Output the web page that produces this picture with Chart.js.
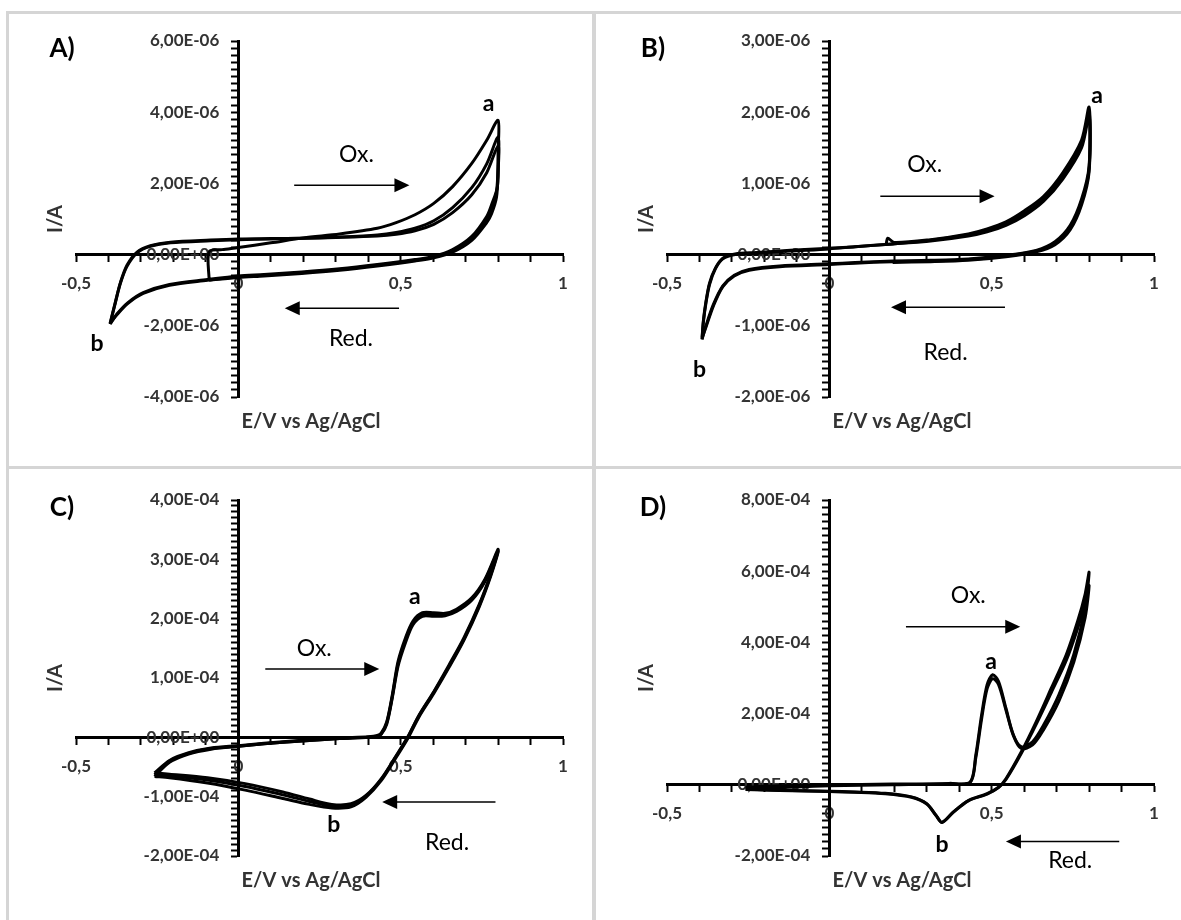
<!DOCTYPE html>
<html>
<head>
<meta charset="utf-8">
<script src="https://cdn.jsdelivr.net/npm/chart.js@4.4.1/dist/chart.umd.min.js"></script>
<style>
  html, body { margin: 0; padding: 0; background: #fff; }
  body { width: 1181px; height: 920px; position: relative; overflow: hidden; }
  .panel { position: absolute; width: 590px; height: 459px; }
  .rule { position: absolute; background: #d5d5d5; }
</style>
</head>
<body>
<div class="panel" style="left:0;top:0"><canvas id="chartA" width="590" height="459"></canvas></div>
<div class="panel" style="left:591px;top:0"><canvas id="chartB" width="590" height="459"></canvas></div>
<div class="panel" style="left:0;top:459px"><canvas id="chartC" width="590" height="459"></canvas></div>
<div class="panel" style="left:591px;top:459px"><canvas id="chartD" width="590" height="459"></canvas></div>
<div class="rule" style="left:6px;top:11px;width:1175px;height:3px"></div>
<div class="rule" style="left:6px;top:11px;width:3px;height:909px"></div>
<div class="rule" style="left:592px;top:11px;width:4px;height:909px"></div>
<div class="rule" style="left:6px;top:466px;width:1175px;height:3px"></div>
<script>
// A) currents in µA
const potA1 = [-0.09, -0.09, -0.05, 0, 0.1, 0.2, 0.312, 0.428, 0.486, 0.544, 0.602, 0.66, 0.719, 0.765, 0.8, 0.8, 0.798, 0.78, 0.765, 0.719, 0.66, 0.602, 0.544, 0.428, 0.312, 0.195, 0.079, 0, -0.095, -0.212, -0.293, -0.34, -0.374, -0.395];
const curA1 = [-0.72, 0.08, 0.14, 0.2, 0.33, 0.47, 0.58, 0.74, 0.9, 1.12, 1.44, 1.91, 2.56, 3.21, 3.77, 2.9, 1.91, 1.4, 1.07, 0.51, 0.14, -0.05, -0.14, -0.28, -0.4, -0.49, -0.56, -0.6, -0.7, -0.84, -1.07, -1.35, -1.67, -1.95];
const potA2 = [-0.395, -0.379, -0.363, -0.343, -0.312, -0.271, -0.209, -0.086, 0, 0.1, 0.2, 0.3, 0.428, 0.486, 0.544, 0.602, 0.66, 0.719, 0.765, 0.8, 0.8, 0.795, 0.78, 0.765, 0.719, 0.66, 0.602, 0.544, 0.428, 0.312, 0.195, 0.079, 0, -0.095, -0.212, -0.293, -0.34, -0.374, -0.395];
const curA2 = [-1.95, -1.36, -0.8, -0.33, 0.05, 0.23, 0.33, 0.39, 0.42, 0.44, 0.46, 0.49, 0.55, 0.62, 0.74, 0.95, 1.32, 1.88, 2.55, 3.3, 2.5, 1.75, 1.25, 0.98, 0.45, 0.1, -0.07, -0.16, -0.3, -0.42, -0.51, -0.58, -0.62, -0.72, -0.86, -1.09, -1.37, -1.69, -1.93];
const potA3 = [-0.395, -0.379, -0.363, -0.343, -0.312, -0.271, -0.209, -0.086, 0, 0.1, 0.2, 0.3, 0.428, 0.486, 0.544, 0.602, 0.66, 0.719, 0.765, 0.8, 0.8, 0.795, 0.78, 0.765, 0.719, 0.66, 0.602, 0.544, 0.428, 0.312, 0.195, 0.079, 0, -0.09];
const curA3 = [-1.93, -1.34, -0.78, -0.3, 0.07, 0.25, 0.35, 0.41, 0.44, 0.45, 0.46, 0.48, 0.52, 0.57, 0.67, 0.85, 1.18, 1.68, 2.3, 3.05, 2.3, 1.6, 1.15, 0.9, 0.4, 0.07, -0.09, -0.18, -0.32, -0.44, -0.53, -0.6, -0.64, -0.72];

// B) currents in µA
const potB1 = [0.175, 0.18, 0.2, 0.312, 0.428, 0.486, 0.544, 0.602, 0.66, 0.719, 0.777, 0.8, 0.8, 0.777, 0.742, 0.695, 0.637, 0.544, 0.428, 0.312, 0.195, 0.079, 0, -0.153, -0.247, -0.293, -0.328, -0.357, -0.38, -0.392];
const curB1 = [0.14, 0.23, 0.17, 0.21, 0.29, 0.36, 0.46, 0.62, 0.82, 1.15, 1.61, 2.07, 1.24, 0.78, 0.41, 0.18, 0.06, -0.01, -0.06, -0.08, -0.09, -0.11, -0.13, -0.16, -0.21, -0.29, -0.44, -0.7, -1.0, -1.19];
const potB2 = [-0.392, -0.388, -0.38, -0.369, -0.351, -0.328, -0.29, -0.225, -0.12, 0, 0.079, 0.195, 0.312, 0.428, 0.486, 0.544, 0.602, 0.66, 0.719, 0.777, 0.8, 0.8, 0.777, 0.742, 0.695, 0.637, 0.544, 0.428, 0.312, 0.195, 0.079, 0, -0.153, -0.247, -0.293, -0.328, -0.357, -0.38, -0.392];
const curB2 = [-1.19, -0.95, -0.68, -0.42, -0.2, -0.06, 0, 0.02, 0.05, 0.08, 0.11, 0.15, 0.2, 0.28, 0.34, 0.44, 0.58, 0.78, 1.1, 1.55, 2.0, 1.2, 0.74, 0.38, 0.16, 0.05, -0.02, -0.07, -0.09, -0.1, -0.12, -0.14, -0.17, -0.22, -0.3, -0.45, -0.72, -1.02, -1.17];
const potB3 = [-0.392, -0.388, -0.38, -0.369, -0.351, -0.328, -0.29, -0.225, -0.12, 0, 0.079, 0.195, 0.312, 0.428, 0.486, 0.544, 0.602, 0.66, 0.719, 0.777, 0.8, 0.8, 0.777, 0.742, 0.695, 0.637, 0.544, 0.428, 0.312, 0.195];
const curB3 = [-1.17, -0.93, -0.66, -0.4, -0.19, -0.05, 0.01, 0.03, 0.06, 0.09, 0.11, 0.15, 0.19, 0.26, 0.32, 0.41, 0.55, 0.75, 1.06, 1.5, 1.95, 1.16, 0.7, 0.35, 0.14, 0.04, -0.03, -0.08, -0.1, -0.11];

// C) currents in 1E-04 A
const potC1 = [-0.258, -0.212, -0.153, -0.084, 0, 0.079, 0.195, 0.312, 0.4, 0.428, 0.44, 0.457, 0.474, 0.492, 0.515, 0.538, 0.567, 0.602, 0.637, 0.672, 0.719, 0.76, 0.8, 0.777, 0.742, 0.695, 0.649, 0.602, 0.556, 0.521, 0.486, 0.44, 0.393, 0.347, 0.288, 0.219, 0.137, 0.021, -0.095, -0.212, -0.258];
const curC1 = [-0.6, -0.39, -0.26, -0.18, -0.14, -0.1, -0.05, -0.01, 0.01, 0.03, 0.07, 0.26, 0.71, 1.28, 1.68, 1.96, 2.1, 2.1, 2.09, 2.16, 2.35, 2.67, 3.17, 2.75, 2.24, 1.68, 1.22, 0.77, 0.37, 0, -0.31, -0.7, -0.98, -1.12, -1.13, -1.04, -0.92, -0.78, -0.68, -0.62, -0.6];
const potC2 = potC1;
const curC2 = [-0.63, -0.4, -0.27, -0.19, -0.15, -0.11, -0.06, -0.02, 0, 0.02, 0.06, 0.24, 0.68, 1.24, 1.64, 1.93, 2.07, 2.07, 2.07, 2.14, 2.33, 2.65, 3.15, 2.73, 2.22, 1.66, 1.2, 0.76, 0.36, -0.01, -0.32, -0.71, -0.99, -1.14, -1.16, -1.08, -0.97, -0.83, -0.72, -0.65, -0.63];
const potC3 = potC1;
const curC3 = [-0.66, -0.42, -0.28, -0.2, -0.15, -0.11, -0.06, -0.02, 0, 0.02, 0.05, 0.22, 0.66, 1.2, 1.6, 1.9, 2.04, 2.04, 2.05, 2.12, 2.31, 2.63, 3.13, 2.71, 2.2, 1.64, 1.18, 0.74, 0.34, -0.03, -0.34, -0.73, -1.01, -1.17, -1.19, -1.13, -1.03, -0.89, -0.77, -0.68, -0.66];

// D) currents in 1E-04 A
const potD1 = [-0.258, -0.153, 0, 0.195, 0.37, 0.434, 0.451, 0.469, 0.486, 0.503, 0.521, 0.544, 0.567, 0.591, 0.626, 0.66, 0.707, 0.753, 0.788, 0.8, 0.788, 0.765, 0.73, 0.684, 0.637, 0.591, 0.544, 0.521, 0.486, 0.428, 0.381, 0.347, 0.329, 0.3, 0.253, 0.172, 0.079, 0, -0.153, -0.258];
const curD1 = [-0.07, -0.03, 0, 0.02, 0.04, 0.08, 0.83, 1.96, 2.81, 3.09, 2.91, 2.15, 1.4, 1.07, 1.21, 1.68, 2.53, 3.66, 4.98, 5.97, 5.36, 4.6, 3.66, 2.72, 1.77, 0.92, 0.17, -0.07, -0.25, -0.44, -0.77, -1.06, -0.87, -0.54, -0.35, -0.25, -0.21, -0.19, -0.16, -0.13];
const potD2 = potD1;
const curD2 = [-0.12, -0.08, -0.03, 0, 0.03, 0.07, 0.75, 1.85, 2.7, 2.98, 2.82, 2.1, 1.38, 1.02, 1.12, 1.55, 2.35, 3.45, 4.7, 5.6, 5.1, 4.4, 3.5, 2.6, 1.7, 0.88, 0.15, -0.08, -0.26, -0.45, -0.78, -1.05, -0.86, -0.53, -0.34, -0.24, -0.2, -0.18, -0.15, -0.12];

const panels = [
  {
    id: 'chartA', letter: 'A)', unit: 1e-6, min: -4e-6, max: 6e-6, major: 2e-6, minor: 2e-7,
    cycles: [[potA1, curA1], [potA2, curA2], [potA3, curA3]],
    labels: [
      {text: 'a', e: 0.771, i: 4.23, bold: true},
      {text: 'b', e: -0.435, i: -2.51, bold: true},
      {text: 'Ox.', e: 0.364, i: 2.82},
      {text: 'Red.', e: 0.347, i: -2.37}
    ],
    arrows: [[0.172, 0.527, 1.95], [0.495, 0.143, -1.51]]
  },
  {
    id: 'chartB', letter: 'B)', unit: 1e-6, min: -2e-6, max: 3e-6, major: 1e-6, minor: 1e-7,
    cycles: [[potB1, curB1], [potB2, curB2], [potB3, curB3]],
    labels: [
      {text: 'a', e: 0.825, i: 2.24, bold: true},
      {text: 'b', e: -0.4, i: -1.61, bold: true},
      {text: 'Ox.', e: 0.294, i: 1.26},
      {text: 'Red.', e: 0.358, i: -1.375}
    ],
    arrows: [[0.157, 0.509, 0.82], [0.541, 0.19, -0.74]]
  },
  {
    id: 'chartC', letter: 'C)', unit: 1e-4, min: -2e-4, max: 4e-4, major: 1e-4, minor: 1e-5,
    cycles: [[potC1, curC1], [potC2, curC2], [potC3, curC3]],
    labels: [
      {text: 'a', e: 0.544, i: 2.38, bold: true},
      {text: 'b', e: 0.294, i: -1.47, bold: true},
      {text: 'Ox.', e: 0.234, i: 1.49},
      {text: 'Red.', e: 0.643, i: -1.78}
    ],
    arrows: [[0.083, 0.434, 1.15], [0.792, 0.443, -1.09]]
  },
  {
    id: 'chartD', letter: 'D)', unit: 1e-4, min: -2e-4, max: 8e-4, major: 2e-4, minor: 2e-5,
    cycles: [[potD1, curD1], [potD2, curD2]],
    labels: [
      {text: 'a', e: 0.498, i: 3.47, bold: true},
      {text: 'b', e: 0.347, i: -1.67, bold: true},
      {text: 'Ox.', e: 0.428, i: 5.31},
      {text: 'Red.', e: 0.742, i: -2.14}
    ],
    arrows: [[0.236, 0.588, 4.44], [0.893, 0.544, -1.59]]
  }
];

const FONT = 'Lato, "Open Sans", sans-serif';
const INK = '#333';
const tickFont = {family: FONT, weight: 'bold', size: 17};

function sci(v) {
  if (Math.abs(v) < 1e-15) return '0,00E+00';
  const parts = v.toExponential(2).split('e');
  const n = parseInt(parts[1], 10);
  return parts[0].replace('.', ',') + 'E' + (n < 0 ? '-' : '+') + String(Math.abs(n)).padStart(2, '0');
}

function isMultiple(v, step) {
  const r = v / step;
  return Math.abs(r - Math.round(r)) < 1e-6;
}

// y tick labels sit left of the crossing axis, under the curves
const panelText = {
  id: 'panelText',
  beforeDatasetsDraw(chart, args, opts) {
    const ctx = chart.ctx;
    const xs = chart.scales.x, ys = chart.scales.y;
    const axisX = xs.getPixelForValue(0);
    ctx.save();
    ctx.fillStyle = INK;
    ctx.font = 'bold 17px ' + FONT;
    ctx.textAlign = 'right';
    ctx.textBaseline = 'middle';
    ys.ticks.forEach(t => {
      if (isMultiple(t.value, opts.major)) ctx.fillText(sci(t.value), axisX - 19, ys.getPixelForValue(t.value));
    });
    ctx.restore();
  },
  afterDraw(chart, args, opts) {
    const ctx = chart.ctx;
    const xs = chart.scales.x, ys = chart.scales.y;
    ctx.save();
    ctx.textAlign = 'center';
    ctx.textBaseline = 'middle';
    ctx.fillStyle = '#000';
    ctx.font = 'bold 26px ' + FONT;
    ctx.fillText(opts.letter, 62, 49);

    ctx.fillStyle = INK;
    ctx.font = 'bold 20px ' + FONT;
    ctx.fillText('E/V vs Ag/AgCl', 311, 422);
    ctx.save();
    ctx.translate(56, 219);
    ctx.rotate(-Math.PI / 2);
    ctx.fillText('I/A', 0, 0);
    ctx.restore();

    ctx.fillStyle = '#000';
    opts.labels.forEach(l => {
      ctx.font = (l.bold ? 'bold ' : '') + '23px ' + FONT;
      ctx.fillText(l.text, xs.getPixelForValue(l.e), ys.getPixelForValue(l.i * opts.unit));
    });

    ctx.strokeStyle = '#000';
    ctx.lineWidth = 1.5;
    opts.arrows.forEach(a => {
      const x1 = xs.getPixelForValue(a[0]);
      const x2 = xs.getPixelForValue(a[1]);
      const y = ys.getPixelForValue(a[2] * opts.unit);
      const dir = Math.sign(x2 - x1);
      ctx.beginPath();
      ctx.moveTo(x1, y);
      ctx.lineTo(x2 - dir * 12, y);
      ctx.stroke();
      ctx.beginPath();
      ctx.moveTo(x2, y);
      ctx.lineTo(x2 - dir * 15, y - 7);
      ctx.lineTo(x2 - dir * 15, y + 7);
      ctx.closePath();
      ctx.fill();
    });
    ctx.restore();
  }
};

panels.forEach(p => {
  const datasets = p.cycles.map(([pot, cur]) => ({
    data: pot.map((e, k) => ({x: e, y: cur[k] * p.unit})),
    showLine: true,
    borderColor: '#000',
    borderWidth: 3,
    pointRadius: 0,
    tension: 0.3,
    fill: false
  }));

  const axisGrid = {display: true, drawOnChartArea: false, drawTicks: true, tickLength: 6, tickWidth: 2, tickColor: '#000'};
  const axisBorder = {display: true, color: '#000', width: 3};

  new Chart(document.getElementById(p.id), {
    type: 'scatter',
    data: {datasets},
    options: {
      responsive: false,
      animation: false,
      events: [],
      layout: {padding: {left: 76, right: 27, top: 41, bottom: 62}},
      plugins: {
        legend: {display: false},
        tooltip: {enabled: false},
        panelText: {letter: p.letter, unit: p.unit, major: p.major, labels: p.labels, arrows: p.arrows}
      },
      scales: {
        x: {
          type: 'linear',
          position: {y: 0},
          min: -0.5, max: 1,
          afterFit: s => { s.height = 0; },
          grid: axisGrid,
          border: axisBorder,
          ticks: {
            stepSize: 0.1, autoSkip: false, maxRotation: 0, padding: 13,
            font: tickFont, color: INK,
            callback: v => isMultiple(v, 0.5) ? String(Math.round(v * 10) / 10).replace('.', ',') : ''
          }
        },
        y: {
          type: 'linear',
          position: {x: 0},
          min: p.min, max: p.max,
          afterFit: s => { s.width = 0; },
          grid: axisGrid,
          border: axisBorder,
          ticks: {
            display: false, stepSize: p.minor, maxTicksLimit: 200, autoSkip: false,
            callback: v => isMultiple(v, p.major) ? sci(v) : ''
          }
        }
      }
    },
    plugins: [panelText]
  });
});
</script>
</body>
</html>
